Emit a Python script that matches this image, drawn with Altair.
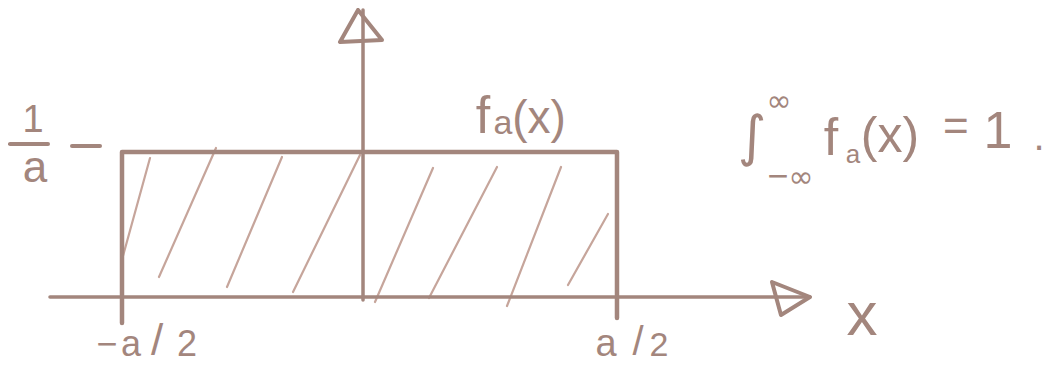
import altair as alt
import pandas as pd

# ---- sketch coordinate system (units of a; box height 1/a) ----
X_DOMAIN = [-0.7303, 1.3667]
Y_DOMAIN = [-0.4690, 1.9931]

a = 1.0
rect_x = [-a / 2, -a / 2, a / 2, a / 2]
rect_y = [-0.179, 1 / a, 1 / a, -0.145]

x_axis_x = [-0.6455, 0.8899]
x_axis_y = [0.0, 0.0]
y_axis_x = [-0.0131, -0.0131]
y_axis_y = [-0.02, 1.9793]

arrow_r_x = [0.8131, 0.8899, 0.8313, 0.8131]
arrow_r_y = [0.1034, 0.0, -0.1241, 0.1034]
arrow_t_x = [-0.0232, -0.0596, 0.0253, -0.0232]
arrow_t_y = [1.9793, 1.7586, 1.7724, 1.9793]

# hatching strokes (start -> end)
hatch_x1 = [-0.4434, -0.3101, -0.1768, -0.0192, 0.1283, 0.2576, 0.3869, 0.4818]
hatch_y1 = [0.9586, 1.0276, 0.9655, 0.9793, 0.8897, 0.8966, 0.8966, 0.5724]
hatch_x2 = [-0.4980, -0.4253, -0.2879, -0.1545, 0.0111, 0.1202, 0.2778, 0.4010]
hatch_y2 = [0.2828, 0.1379, 0.0690, 0.0345, -0.0345, -0.0069, -0.0621, 0.0828]

# short strokes: tick at 1/a, fraction bar
seg_x1 = [-0.6010, -0.7263]
seg_x2 = [-0.5444, -0.6495]
seg_y1 = [1.0414, 1.0552]
seg_y2 = [1.0414, 1.0552]

# text labels (baseline anchored)
lab_text = ["1", "a",
            "f", "a", "(x)",
            "f", "a", "(x)", "=", "1", ".",
            "\u2212", "a", "/", "2",
            "a", "/", "2",
            "x"]
lab_x = [-0.6798, -0.6758,
         0.2293, 0.2697, 0.3424,
         0.9323, 0.9768, 1.0515, 1.1848, 1.2697, 1.3525,
         -0.5303, -0.4818, -0.4293, -0.3687,
         0.4778, 0.5424, 0.5848,
         0.9949]
lab_y = [1.1379, 0.7931,
         1.1310, 1.1241, 1.1310,
         0.9793, 0.9241, 0.9966, 1.0759, 1.0276, 1.0138,
         -0.4069, -0.4069, -0.4000, -0.4069,
         -0.4069, -0.4000, -0.4069,
         -0.2621]
lab_size = [38, 44,
            52, 34, 46,
            52, 26, 50, 44, 52, 40,
            36, 36, 44, 36,
            38, 40, 34,
            62]

# math symbols of the integral (centre anchored)
sym_text = ["\u222b", "\u221e", "\u2212", "\u221e"]
sym_x = [0.7727, 0.8273, 0.8253, 0.8717]
sym_y = [1.0966, 1.3448, 0.8276, 0.8207]
sym_size = [55, 30, 28, 30]

INK = "#a3867d"
INK_LIGHT = "#c6a59b"

xs = alt.Scale(domain=X_DOMAIN, nice=False, zero=False)
ys = alt.Scale(domain=Y_DOMAIN, nice=False, zero=False)


def poly(xv, yv):
    return pd.DataFrame({"x": xv, "y": yv, "i": list(range(len(xv)))})


def line_layer(df, width, color=INK):
    return alt.Chart(df).mark_line(
        color=color, strokeWidth=width, strokeCap="round", strokeJoin="round"
    ).encode(
        x=alt.X("x:Q", scale=xs, axis=None),
        y=alt.Y("y:Q", scale=ys, axis=None),
        order="i:Q",
    )


def seg_layer(x1, y1, x2, y2, width, color):
    df = pd.DataFrame({"x1": x1, "y1": y1, "x2": x2, "y2": y2})
    return alt.Chart(df).mark_rule(
        color=color, strokeWidth=width, strokeCap="round"
    ).encode(
        x=alt.X("x1:Q", scale=xs, axis=None), y=alt.Y("y1:Q", scale=ys, axis=None),
        x2="x2:Q", y2="y2:Q",
    )


def text_layer(t, xv, yv, sv, font, baseline):
    df = pd.DataFrame({"t": t, "x": xv, "y": yv, "s": sv})
    return alt.Chart(df).mark_text(
        color=INK, font=font, align="center", baseline=baseline
    ).encode(
        x=alt.X("x:Q", scale=xs, axis=None),
        y=alt.Y("y:Q", scale=ys, axis=None),
        text="t:N",
        size=alt.Size("s:Q", scale=None, legend=None),
    )


chart = alt.layer(
    seg_layer(hatch_x1, hatch_y1, hatch_x2, hatch_y2, 2.2, INK_LIGHT),
    line_layer(poly(rect_x, rect_y), 4.5),
    line_layer(poly(x_axis_x, x_axis_y), 3.5),
    line_layer(poly(y_axis_x, y_axis_y), 3.5),
    line_layer(poly(arrow_r_x, arrow_r_y), 4),
    line_layer(poly(arrow_t_x, arrow_t_y), 4),
    seg_layer(seg_x1, seg_y1, seg_x2, seg_y2, 4, INK),
    text_layer(lab_text, lab_x, lab_y, lab_size, "Liberation Sans", "alphabetic"),
    text_layer(sym_text, sym_x, sym_y, sym_size, "DejaVu Sans", "middle"),
).properties(
    width=1038, height=357,
    autosize=alt.AutoSizeParams(type="none"),
    padding=0,
    background="white",
).configure_view(stroke=None)

chart.save("out.html", embed_options={"renderer": "svg", "actions": False})
